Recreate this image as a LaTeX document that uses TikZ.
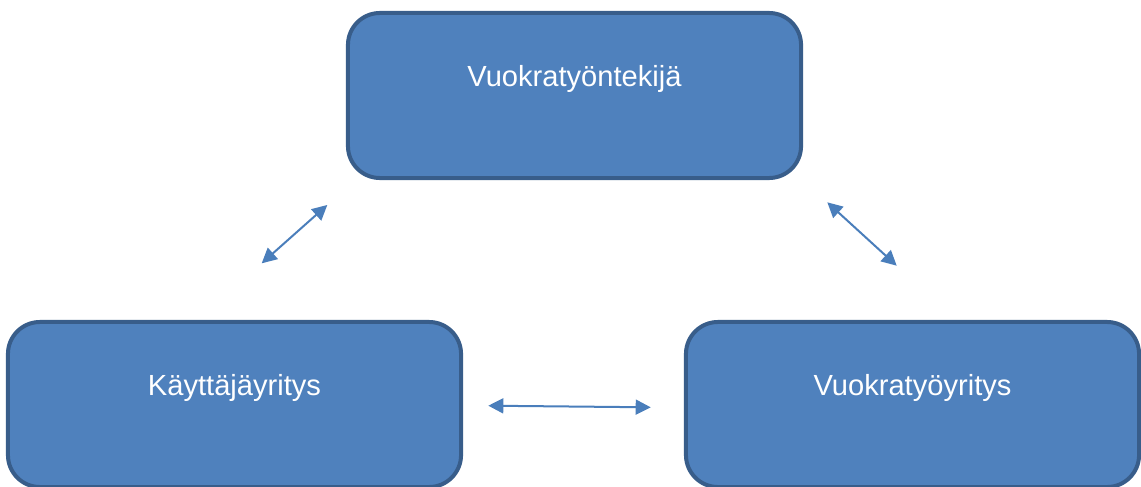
\documentclass[tikz,border=0pt]{standalone}
\usepackage{fontspec}
\setmainfont{Liberation Sans}
\usetikzlibrary{arrows.meta}
\definecolor{boxfill}{HTML}{4F81BD}
\definecolor{boxline}{HTML}{385D8A}
\definecolor{arrowblue}{HTML}{4A7EBB}
\begin{document}
\begin{tikzpicture}[
       x=0.025cm, y=-0.025cm,
       party/.style={draw=boxline, fill=boxfill, line width=0.1cm,
         rounded corners=0.8cm, minimum width=11.325cm, minimum height=4.125cm,
         text=white, font=\fontsize{20.7}{24}\selectfont,
         text height=0.55cm, text depth=0.995cm},
       link/.style={draw=arrowblue, line width=0.05cm,
         {Triangle[length=0.375cm,width=0.375cm]}-{Triangle[length=0.375cm,width=0.375cm]}},
       ]
      \useasboundingbox (0,0) rectangle (1141,486);

       \node[party] (tyontekija) at (574.5,95.5) {Vuokratyöntekijä};
       \node[party] (kayttaja) at (234.5,404.5) {Käyttäjäyritys};
       \node[party] (vuokrayritys) at (912.5,404.5) {Vuokratyöyritys};

       \coordinate (la) at (261.7,263.3);
       \coordinate (lb) at (327.3,205);
       \coordinate (ra) at (827.3,202.3);
       \coordinate (rb) at (896.7,265.7);
       \coordinate (ha) at (488.3,405.7);
       \coordinate (hb) at (650.7,407.3);
       \foreach \a/\b in {la/lb, ra/rb, ha/hb} {
         \draw[link] (\a) -- (\b);
       }
     \end{tikzpicture}
\end{document}
